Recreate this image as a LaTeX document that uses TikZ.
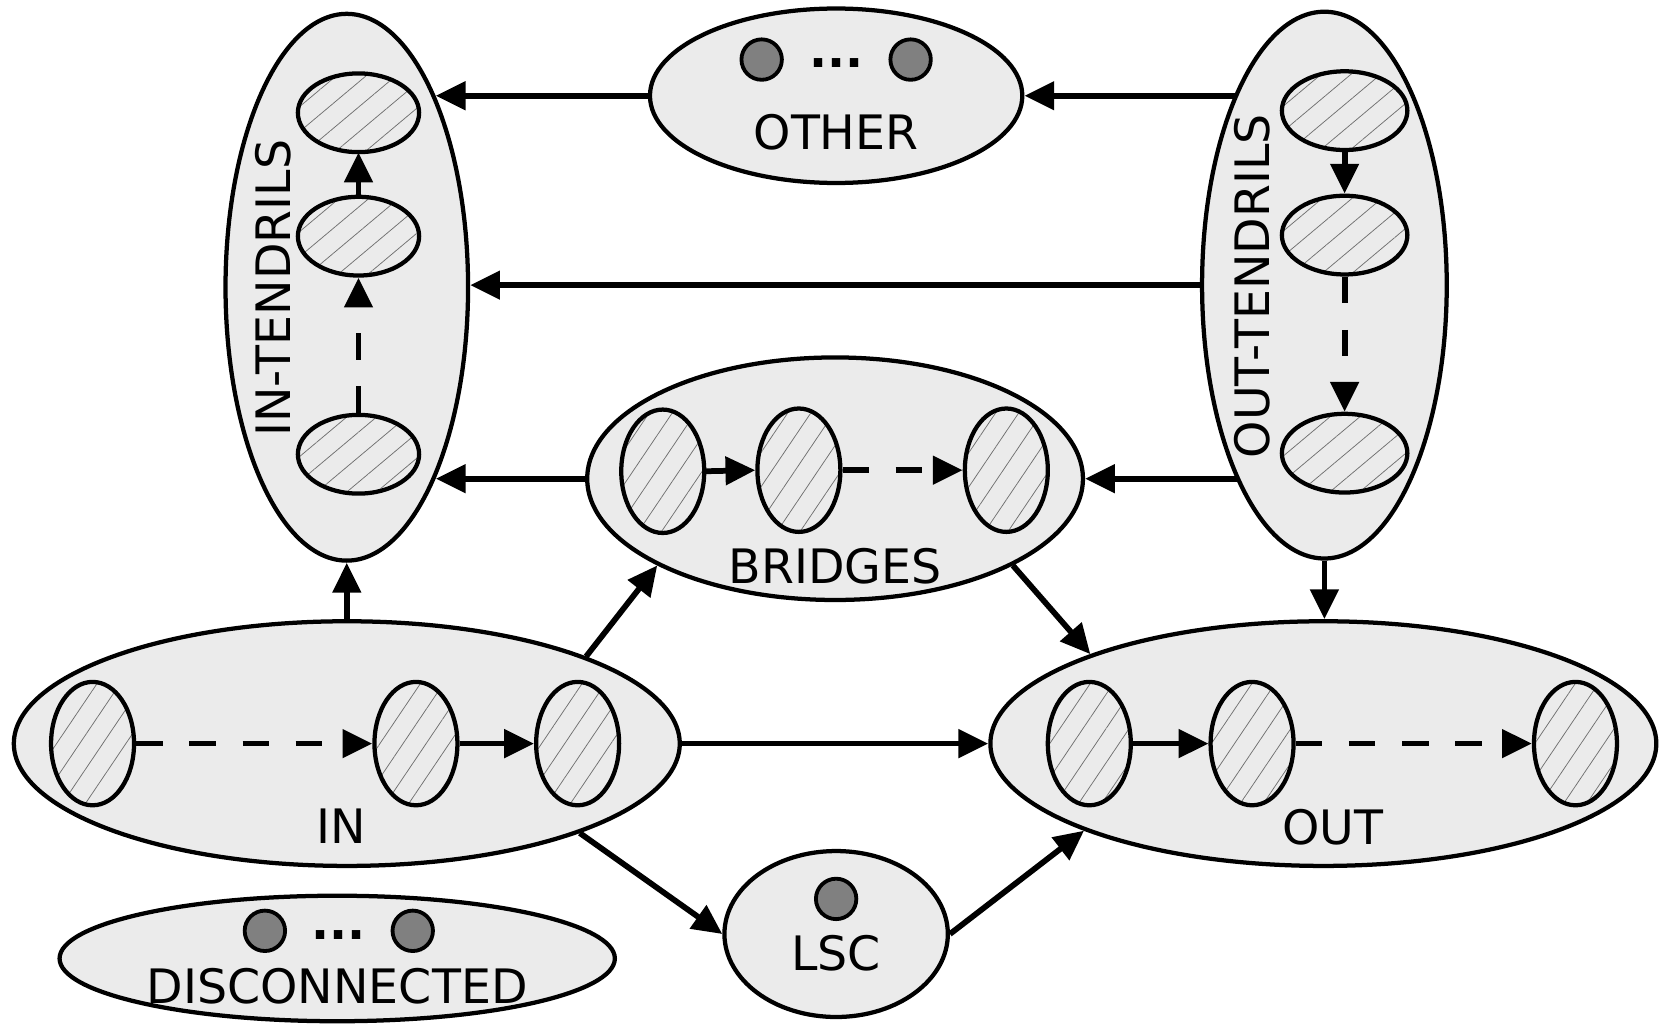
\documentclass[tikz,border=0pt]{standalone}
\usepackage{fontspec}
\setmainfont{DejaVu Sans}
\usetikzlibrary{shapes.geometric,arrows.meta,patterns.meta}
\definecolor{bg}{HTML}{EBEBEB}
\definecolor{dotgray}{HTML}{808080}
\definecolor{hatch}{HTML}{707070}
\tikzset{
  big/.style={ellipse, draw, line width=2pt, fill=bg, inner sep=0pt},
  vsub/.style={ellipse, draw, line width=2pt, inner sep=0pt, minimum width=39pt, minimum height=58pt,
    pattern={Lines[angle=56,distance=9pt,line width=0.35pt]}, pattern color=hatch},
  hsub/.style={ellipse, draw, line width=2pt, inner sep=0pt, minimum width=57pt, minimum height=37pt,
    pattern={Lines[angle=40,distance=9pt,line width=0.35pt]}, pattern color=hatch},
  dotnode/.style={circle, draw, line width=1.8pt, fill=dotgray, minimum size=19pt, inner sep=0pt},
  lab/.style={inner sep=0pt, font=\fontsize{22.3}{26}\selectfont},
  ell/.style={inner sep=0pt, font=\fontsize{22.3}{26}\selectfont\bfseries},
  conn/.style={line width=2.7pt, -{Triangle[length=14pt,width=13pt]}},
  dsh/.style={dash pattern=on 12.5pt off 12.5pt},
}
\begin{document}
\begin{tikzpicture}[x=0.5pt,y=-0.5pt]
\useasboundingbox (0,0) rectangle (1568,971);
% big ellipses
\node[big, minimum width=114pt, minimum height=257pt] (int) at (326,270) {};
\node[big, minimum width=175pt, minimum height=82pt] (other) at (786,90) {};
\node[big, minimum width=115pt, minimum height=257pt] (outt) at (1245,268) {};
\node[big, minimum width=233pt, minimum height=114pt] (br) at (785,450) {};
\node[big, minimum width=313pt, minimum height=115pt] (in) at (326,699) {};
\node[big, minimum width=313pt, minimum height=115pt] (out) at (1244,699) {};
\node[big, minimum width=105pt, minimum height=78pt] (lsc) at (786,878) {};
\node[big, minimum width=261pt, minimum height=59pt] (dis) at (317,901) {};
% sub components
\node[hsub] (int1) at (337,106) {};
\node[hsub] (int2) at (337,222) {};
\node[hsub] (int3) at (337,427) {};
\node[hsub, minimum width=59pt] (outt1) at (1264,104) {};
\node[hsub, minimum width=59pt] (outt2) at (1264,221) {};
\node[hsub, minimum width=59pt] (outt3) at (1264,426) {};
\node[vsub] (br1) at (623,443) {};
\node[vsub] (br2) at (751,442) {};
\node[vsub] (br3) at (946,442) {};
\node[vsub] (in1) at (87,699) {};
\node[vsub] (in2) at (391,699) {};
\node[vsub] (in3) at (543,699) {};
\node[vsub] (out1) at (1024,699) {};
\node[vsub] (out2) at (1177,699) {};
\node[vsub] (out3) at (1481,699) {};
% dots
\node[dotnode] (od1) at (716,56) {};
\node[dotnode] (od2) at (856,56) {};
\node[ell] (oell) at (786,59) {...};
\node[dotnode] (ld) at (786,845) {};
\node[dotnode] (dd1) at (249,875) {};
\node[dotnode] (dd2) at (388,875) {};
\node[ell] (dell) at (318,879) {...};
% labels
\node[lab, rotate=90] (intl) at (256.5,271) {IN-TENDRILS};
\node[lab, rotate=90] (outtl) at (1177.5,269) {OUT-TENDRILS};
\node[lab] (otherl) at (786,124) {OTHER};
\node[lab] (brl) at (785,532) {BRIDGES};
\node[lab] (inl) at (321,777) {IN};
\node[lab] (outl) at (1253,778) {OUT};
\node[lab] (lscl) at (786,896) {LSC};
\node[lab] (disl) at (317,927) {DISCONNECTED};
% internal arrows
\draw[conn] (int2.north) -- (int1.south);
\draw[conn,dsh] (int3.north) -- (int2.south);
\draw[conn] (outt1.south) -- (outt2.north);
\draw[conn,dsh] (outt2.south) -- (outt3.north);
\draw[conn] (br1.east) -- (br2.west);
\draw[conn,dsh] (br2.east) -- (br3.west);
\draw[conn,dsh] (in1.east) -- (in2.west);
\draw[conn] (in2.east) -- (in3.west);
\draw[conn] (out1.east) -- (out2.west);
\draw[conn,dsh] (out2.east) -- (out3.west);
% connectors between components
\draw[conn] (other.west) -- (other.west -| int.65.7);
\draw[conn] (outt.115 |- other.east) -- (other.east);
\draw[conn] (outt.west) -- (outt.west -| int.east);
\draw[conn] (br.west) -- (br.west -| int.-65.7);
\draw[conn] (outt.-114 |- br.east) -- (br.east);
\draw[conn] (outt.south) -- (outt.south |- out.north);
\draw[conn] (in.north) -- (in.north |- int.south);
\draw[conn] (in.20.7) -- (br.206.4);
\draw[conn] (br.-26.6) -- (out.159.3);
\draw[conn] (in.east) -- (out.west);
\draw[conn] (in.-21) -- (lsc.west);
\draw[conn] (lsc.east) -- (out.200.5);
\end{tikzpicture}
\end{document}
